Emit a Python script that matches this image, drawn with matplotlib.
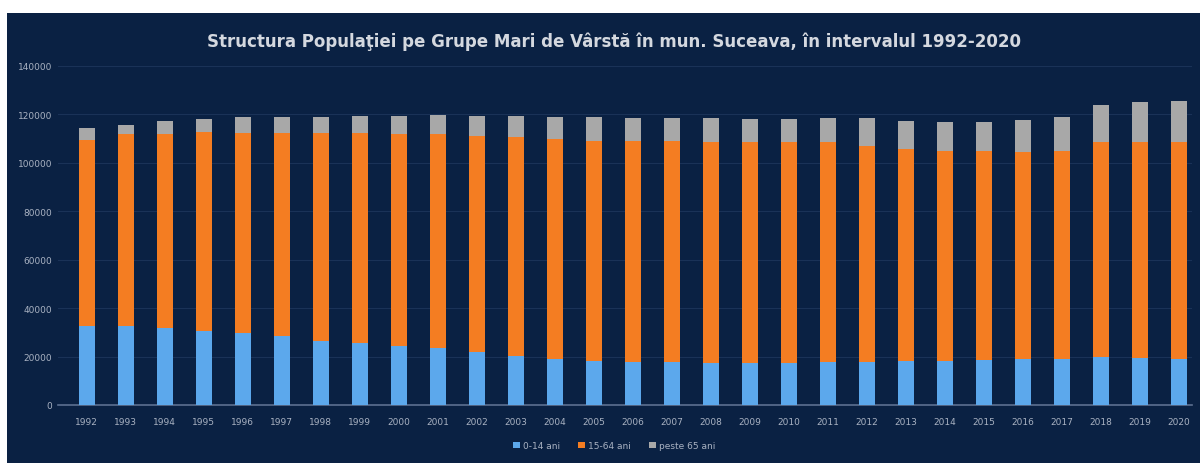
import numpy as np
import matplotlib.pyplot as plt
from matplotlib.patches import Rectangle

years = [str(y) for y in range(1992, 2021)]
# valori (aproximative)
grupa_0_14 = [32700, 32500, 31700, 30700, 29600, 28400, 26600, 25500, 24500, 23400,
              22000, 20400, 19000, 18300, 17900, 17600, 17300, 17300, 17300, 17700,
              17900, 18300, 18300, 18700, 19000, 19000, 19700, 19300, 19000]
grupa_15_64 = [76700, 79500, 80300, 81900, 82900, 83800, 85600, 86700, 87500, 88500,
               89200, 90400, 90900, 90900, 91000, 91300, 91400, 91200, 91200, 90800,
               89200, 87400, 86700, 86300, 85500, 86000, 89000, 89400, 89700]
grupa_65 = [5000, 3800, 5200, 5500, 6300, 6600, 6900, 7300, 7500, 8000,
            8300, 8400, 9100, 9600, 9600, 9600, 9800, 9800, 9800, 10000,
            11400, 11500, 11900, 11900, 13200, 14100, 15300, 16400, 17000]
legend_labels = ["0-14 ani", "15-64 ani", "peste 65 ani"]
title = "Structura Populaţiei pe Grupe Mari de Vârstă în mun. Suceava, în intervalul 1992-2020"

bg = '#0a2143'
text_col = '#a9b2c2'
colors = ['#5ca8ec', '#f47d22', '#a8a8a8']

fig = plt.figure(figsize=(12, 4.64), dpi=100, facecolor='white')
fig.patches.append(Rectangle((7 / 1200, 0), 1, (464 - 14) / 464, transform=fig.transFigure,
                             facecolor=bg, edgecolor='none', zorder=-1))
ax = fig.add_axes([58 / 1200, 58 / 464, 1134 / 1200, 339 / 464])
ax.set_facecolor(bg)

x = np.arange(len(years))
a = np.array(grupa_0_14)
b = np.array(grupa_15_64)
c = np.array(grupa_65)
w = 0.40
ax.bar(x, a, w, color=colors[0], label=legend_labels[0], zorder=3)
ax.bar(x, b, w, bottom=a, color=colors[1], label=legend_labels[1], zorder=3)
ax.bar(x, c, w, bottom=a + b, color=colors[2], label=legend_labels[2], zorder=3)

ax.set_xlim(-0.74, 28.34)
ax.set_ylim(0, 140000)
ax.set_yticks(range(0, 140001, 20000))
ax.set_xticks(x)
ax.set_xticklabels(years)
ax.tick_params(axis='both', colors=text_col, labelsize=6.5, length=0)
ax.tick_params(axis='x', pad=9)
ax.tick_params(axis='y', pad=4)
ax.grid(axis='y', color='#1a3257', linewidth=0.8, zorder=0)
for s in ['top', 'right', 'left']:
    ax.spines[s].set_visible(False)
ax.spines['bottom'].set_color('#5c7090')
ax.spines['bottom'].set_linewidth(1.2)

fig.text(0.512, 0.909, title, ha='center', va='center', fontsize=12,
         fontweight='bold', color='#d4d8df')

leg = fig.legend(loc='center', bbox_to_anchor=(0.512, 0.037), ncol=3, frameon=False,
                 fontsize=6.5, handlelength=0.7, handleheight=0.7, columnspacing=2.0,
                 handletextpad=0.4)
for t in leg.get_texts():
    t.set_color(text_col)

fig.savefig('out.png', dpi=100, facecolor=fig.get_facecolor())
